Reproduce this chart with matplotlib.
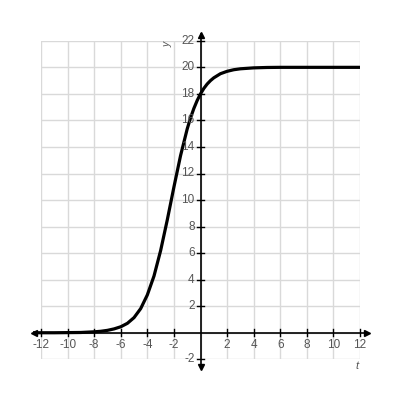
import matplotlib
matplotlib.use("Agg")
import matplotlib.pyplot as plt

plt.rcParams["font.family"] = ["Liberation Sans", "DejaVu Sans"]

# curve points
t_vals = [-12.6, -12, -11, -10, -9, -8, -7.5, -7, -6.5, -6, -5.5, -5, -4.5, -4,
          -3.5, -3, -2.5, -2, -1.5, -1, -0.75, -0.5, -0.25, 0, 0.25, 0.5, 0.75,
          1, 1.5, 2, 2.5, 3, 4, 5, 6, 8, 10, 12]
y_vals = [0.0, 0.0, 0.0, 0.01, 0.02, 0.07, 0.11, 0.18, 0.29, 0.45, 0.71, 1.14,
          1.82, 2.85, 4.27, 6.19, 8.5, 10.98, 13.35, 15.36, 16.19, 16.9, 17.5,
          18.0, 18.41, 18.74, 19.0, 19.21, 19.52, 19.7, 19.82, 19.89, 19.96,
          19.99, 20.0, 20.0, 20.0, 20.0]

x_ticks = [-12, -10, -8, -6, -4, -2, 2, 4, 6, 8, 10, 12]
y_ticks = [-2, 2, 4, 6, 8, 10, 12, 14, 16, 18, 20, 22]

fig = plt.figure(figsize=(4, 4), dpi=100)
ax = fig.add_axes([0.1025, 0.1018, 0.7975, 0.7962])
ax.set_xlim(-12, 12)
ax.set_ylim(-2, 22)
for s in ax.spines.values():
    s.set_visible(False)
ax.set_xticks(range(-12, 13, 2))
ax.set_yticks(range(-2, 23, 2))
ax.tick_params(length=0, labelbottom=False, labelleft=False)
ax.grid(True, color="#d9d9d9", lw=1)

# axes lines with arrows
ax.plot([-12.5, 12.5], [0, 0], color="black", lw=1.2, clip_on=False)
ax.plot([0, 0], [-2.5, 22.5], color="black", lw=1.2, clip_on=False)
ax.plot([-12.55], [0], marker="<", color="black", ms=5, clip_on=False)
ax.plot([12.55], [0], marker=">", color="black", ms=5, clip_on=False)
ax.plot([0], [22.45], marker="^", color="black", ms=5, clip_on=False)
ax.plot([0], [-2.55], marker="v", color="black", ms=5, clip_on=False)

# tick marks and labels
for x in x_ticks:
    ax.plot([x, x], [-0.25, 0.25], color="black", lw=1, clip_on=False)
    ax.text(x, -0.5, str(x), ha="center", va="top", fontsize=8.5, color="#555555")
for y in y_ticks:
    ax.plot([-0.23, 0.23], [y, y], color="black", lw=1, clip_on=False)
    ax.text(-0.45, y, str(y), ha="right", va="center", fontsize=8.5, color="#555555")

ax.text(-2.5, 21.75, "y", rotation=90, ha="center", va="center", fontsize=7.5,
        color="#555555", style="italic")
ax.text(11.75, -2.5, "t", ha="center", va="center", fontsize=8,
        color="#555555", style="italic", clip_on=False)

ax.plot(t_vals, y_vals, color="black", lw=2.3, clip_on=False, solid_capstyle="butt")

fig.savefig("out.png", dpi=100)
